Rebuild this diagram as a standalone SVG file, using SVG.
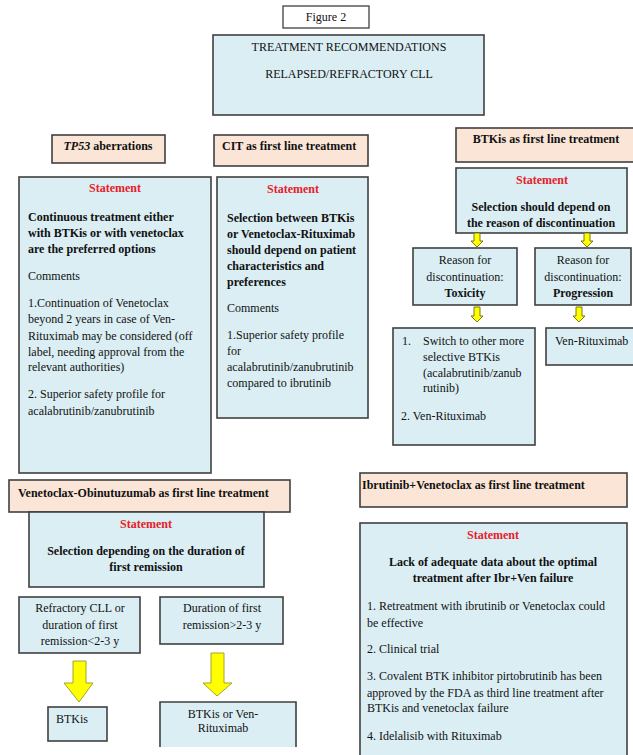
<svg xmlns="http://www.w3.org/2000/svg" width="633" height="755" viewBox="0 0 633 755" font-family="'Liberation Serif', 'DejaVu Serif', serif" font-size="12">
<style>
text{font-family:'Liberation Serif','DejaVu Serif',serif;font-size:12px;fill:#111}
.b{font-weight:bold}
.c{text-anchor:middle}
.st{font-weight:bold;fill:#e8202a;text-anchor:middle}
.blue{fill:#daeef3;stroke:#404040;stroke-width:1.6}
.peach{fill:#fbe5d6;stroke:#404040;stroke-width:1.6}
.white{fill:#fff;stroke:#404040;stroke-width:1.3}
.sa{fill:#ffff00;stroke:#6b6b00;stroke-width:0.9}
.ba{fill:#ffff00;stroke:#9a9a20;stroke-width:0.9}
</style>
<rect width="633" height="755" fill="#fff"/>

<g id="figure-label">
<rect class="white" x="283" y="6" width="86" height="22"/>
<text class="c" x="326" y="21">Figure 2</text>
</g>

<g id="title">
<rect class="blue" x="213" y="35" width="271" height="80"/>
<text class="c" x="349" y="51">TREATMENT RECOMMENDATIONS</text>
<text class="c" x="349" y="78">RELAPSED/REFRACTORY CLL</text>
</g>

<g id="tp53-header">
<rect class="peach" x="52" y="135" width="113" height="28"/>
<text class="b c" x="108" y="150"><tspan font-style="italic">TP53</tspan> aberrations</text>
</g>

<g id="cit-header">
<rect class="peach" x="214" y="135" width="154" height="31"/>
<text class="b" x="222" y="150">CIT as first line treatment</text>
</g>

<g id="btki-header">
<rect class="peach" x="456" y="128" width="180" height="34"/>
<text class="b c" x="546" y="143">BTKis as first line treatment</text>
</g>

<g id="tp53-statement">
<rect class="blue" x="19" y="177" width="192" height="296"/>
<text class="st" x="115" y="192">Statement</text>
<text class="b" x="28" y="221">Continuous treatment either</text>
<text class="b" x="28" y="237">with BTKis or with venetoclax</text>
<text class="b" x="28" y="253">are the preferred options</text>
<text x="28" y="280">Comments</text>
<text x="28" y="307">1.Continuation of Venetoclax</text>
<text x="28" y="323">beyond 2 years in case of Ven-</text>
<text x="28" y="340">Rituximab may be considered (off</text>
<text x="28" y="356">label, needing approval from the</text>
<text x="28" y="371">relevant authorities)</text>
<text x="28" y="398">2. Superior safety profile for</text>
<text x="28" y="415">acalabrutinib/zanubrutinib</text>
</g>

<g id="cit-statement">
<rect class="blue" x="217" y="177" width="151" height="241"/>
<text class="st" x="293" y="193">Statement</text>
<text class="b" x="227" y="222">Selection between BTKis</text>
<text class="b" x="227" y="238">or Venetoclax-Rituximab</text>
<text class="b" x="227" y="254">should depend on patient</text>
<text class="b" x="227" y="270">characteristics and</text>
<text class="b" x="227" y="286">preferences</text>
<text x="227" y="312">Comments</text>
<text x="227" y="339">1.Superior safety profile</text>
<text x="227" y="355">for</text>
<text x="227" y="371">acalabrutinib/zanubrutinib</text>
<text x="227" y="387">compared to ibrutinib</text>
</g>

<g id="btki-statement">
<rect class="blue" x="456" y="168" width="171" height="65"/>
<text class="st" x="542" y="184">Statement</text>
<text class="b c" x="541" y="211">Selection should depend on</text>
<text class="b c" x="541" y="227">the reason of discontinuation</text>
</g>

<g id="toxicity">
<rect class="blue" x="413" y="248" width="104" height="57"/>
<text class="c" x="465" y="264">Reason for</text>
<text class="c" x="465" y="281">discontinuation:</text>
<text class="b c" x="465" y="297">Toxicity</text>
</g>

<g id="progression">
<rect class="blue" x="535" y="248" width="96" height="57"/>
<text class="c" x="583" y="264">Reason for</text>
<text class="c" x="583" y="281">discontinuation:</text>
<text class="b c" x="583" y="297">Progression</text>
</g>

<g id="toxicity-result">
<rect class="blue" x="393" y="328" width="142" height="117"/>
<text x="402" y="345">1.</text>
<text x="423" y="345">Switch to other more</text>
<text x="423" y="361">selective BTKis</text>
<text x="423" y="377">(acalabrutinib/zanub</text>
<text x="423" y="392">rutinib)</text>
<text x="401" y="420">2. Ven-Rituximab</text>
</g>

<g id="progression-result">
<rect class="blue" x="546" y="328" width="90" height="37"/>
<text x="555" y="345">Ven-Rituximab</text>
</g>

<g id="veno-header">
<rect class="peach" x="9" y="480" width="281" height="32"/>
<text class="b" x="18" y="497">Venetoclax-Obinutuzumab as first line treatment</text>
</g>

<g id="veno-statement">
<rect class="blue" x="29" y="512" width="235" height="75"/>
<text class="st" x="146" y="528">Statement</text>
<text class="b c" x="146" y="555">Selection depending on the duration of</text>
<text class="b c" x="146" y="571">first remission</text>
</g>

<g id="refractory">
<rect class="blue" x="19" y="597" width="121" height="56"/>
<text class="c" x="80" y="612">Refractory CLL or</text>
<text class="c" x="80" y="629">duration of first</text>
<text class="c" x="80" y="645">remission&lt;2-3 y</text>
</g>

<g id="duration">
<rect class="blue" x="160" y="597" width="123" height="47"/>
<text class="c" x="222" y="612">Duration of first</text>
<text class="c" x="222" y="629">remission&gt;2-3 y</text>
</g>

<g id="btkis-result">
<rect class="blue" x="48" y="707" width="59" height="34"/>
<text x="56" y="723">BTKis</text>
</g>

<g id="btkis-ven-result">
<rect x="160" y="702" width="136" height="45" fill="#daeef3"/>
<path d="M160 747 V702 H296 V747" fill="none" stroke="#404040" stroke-width="1.6"/>
<text class="c" x="223" y="718">BTKis or Ven-</text>
<text class="c" x="223" y="732">Rituximab</text>
</g>

<g id="ibrven-header">
<rect class="peach" x="360" y="473" width="267" height="34"/>
<text class="b" x="362" y="489">Ibrutinib+Venetoclax as first line treatment</text>
</g>

<g id="ibrven-statement">
<rect class="blue" x="360" y="523" width="267" height="240"/>
<text class="st" x="493" y="539">Statement</text>
<text class="b c" x="493" y="566">Lack of adequate data about the optimal</text>
<text class="b c" x="493" y="582">treatment after Ibr+Ven failure</text>
<text x="367" y="610">1. Retreatment with ibrutinib or Venetoclax could</text>
<text x="367" y="627">be effective</text>
<text x="367" y="653">2. Clinical trial</text>
<text x="367" y="680">3. Covalent BTK inhibitor pirtobrutinib has been</text>
<text x="367" y="697">approved by the FDA as third line treatment after</text>
<text x="367" y="712">BTKis and venetoclax failure</text>
<text x="367" y="740">4. Idelalisib with Rituximab</text>
</g>

<g id="connectors">
<path class="sa" d="M474 233 H480 V241 H483 L477 247 L471 241 H474 Z"/>
<path class="sa" d="M584 233 H590 V241 H593 L587 247 L581 241 H584 Z"/>
<path class="sa" d="M474 307 H480 V316 H483 L477 322 L471 316 H474 Z"/>
<path class="sa" d="M576 307 H582 V316 H585 L579 322 L573 316 H576 Z"/>
<path class="ba" d="M73 661 H86 V683 H93 L79 702 L64 683 H73 Z"/>
<path class="ba" d="M211 653 H224 V683 H232 L217 696 L203 683 H211 Z"/>
</g>
</svg>
